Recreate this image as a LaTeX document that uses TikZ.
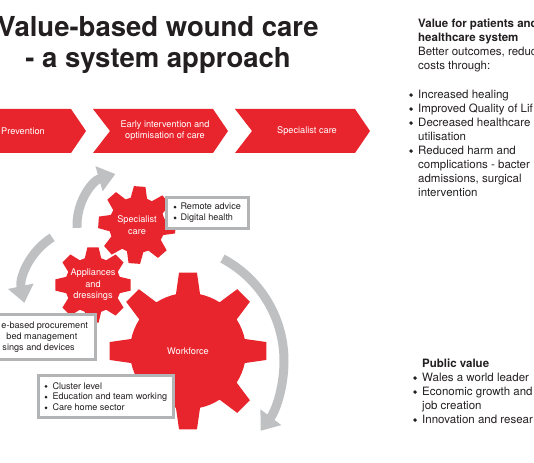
\documentclass[tikz,border=0pt]{standalone}
\usepackage{fontspec}
\setmainfont{TeX Gyre Heros}
\usetikzlibrary{arrows.meta,backgrounds}

\definecolor{wcred}{RGB}{232,37,45}
\definecolor{flowgray}{RGB}{190,192,194}
\definecolor{boxgray}{RGB}{178,180,182}
\definecolor{inkdark}{RGB}{35,31,32}

\newcommand{\bul}[1][9pt]{\makebox[#1][l]{\tikz[baseline=0pt]\fill[inkdark] (0.17em,0.3em) circle (0.165em);}}
\newcommand{\nobul}[1][9pt]{\hspace*{#1}}

% gear outline: centre, root radius, tip radius, base half angle, tip half angle, turn
\newcommand{\gearat}[6]{%
  \begin{scope}[shift={#1}, rotate=#6]
    \fill[gearfill] (-#4:#2)
      \foreach \k in {0,...,7}{
        -- ({\k*45-#5}:#3) -- ({\k*45+#5}:#3) -- ({\k*45+#4}:#2)
        arc[start angle={\k*45+#4}, end angle={\k*45+45-#4}, radius=#2]
      } -- cycle;
  \end{scope}}

\begin{document}
\begin{tikzpicture}[x=1pt, y=-1pt,
    chevron/.style={fill=wcred},
    chevtext/.style={text=white, align=center, inner sep=0pt, font=\fontsize{9.2}{11}\selectfont},
    gearfill/.style={fill=wcred},
    gearlabel/.style={text=white, align=center, inner sep=0pt, font=\fontsize{9.2}{11.5}\selectfont},
    flow/.style={draw=flowgray, line width=9pt, -{Triangle[length=17pt, width=25pt]}},
    infobox/.style={draw=boxgray, line width=3pt, fill=white, text=inkdark, align=left, anchor=west, inner ysep=0pt, font=\fontsize{9.1}{10.8}\selectfont},
    coltext/.style={text=inkdark, align=left, anchor=north west, inner sep=0pt, font=\fontsize{11.5}{14}\selectfont}]

  \useasboundingbox (0,0) rectangle (534,462);
  \clip (0,0) rectangle (534,462);

  % title
  \node[text=inkdark, align=center, anchor=north, inner sep=0pt, font=\fontsize{27.5}{31}\selectfont\bfseries] (title) at (158,16) {Value-based wound care\\- a system approach};

  % care pathway
  \foreach \x/\name/\txt in {-49/prevstep/Prevention, 93/earlystep/{Early intervention and\\optimisation of care}, 235/specstep/Specialist care}{
    \fill[chevron] (\x,109) -- ++(120,0) -- ++(15,22) -- ++(-15,22) -- ++(-120,0) -- ++(17,-22) -- cycle;
    \node[chevtext] (\name) at (\x+72,131) {\txt};
  }

  % gears
  \node[gearlabel] (specgear) at (137,225) {Specialist\\care};
  \node[gearlabel] (applgear) at (93,285) {Appliances\\and\\dressings};
  \node[gearlabel] (workgear) at (188,351) {Workforce};
  \begin{scope}[on background layer]
    \gearat{(workgear.center)}{58}{79}{12}{6.5}{0}
    \gearat{(applgear.center)}{28}{38}{17}{8.5}{0}
    \gearat{(specgear.center)}{28}{39}{17}{8.5}{-4}
  \end{scope}

  % cycle arrows
  \coordinate (topc) at (130,225);
  \coordinate (leftc) at (85,290);
  \coordinate (bigc) at (168,361);
  \draw[flow] ([shift={(177:53)}]topc) arc[start angle=177, end angle=254, radius=53];
  \draw[flow] ([shift={(238:62)}]leftc) arc[start angle=238, end angle=168, radius=62];
  \draw[flow] ([shift={(-62:116)}]bigc) arc[start angle=-62, end angle=37, radius=116];

  % boxes
  \node[infobox, inner xsep=7.5pt, minimum height=31pt] (remote) at (164.5,213) {\bul[7pt]Remote advice\\\bul[7pt]Digital health};
  \node[infobox, inner xsep=8pt, minimum height=45pt] (procure) at (-8,337) {e-based procurement\\\hspace*{5pt}bed management\\\hspace*{1pt}sings and devices};
  \node[infobox, inner xsep=6.5pt, minimum height=42pt] (cluster) at (36.5,396.5) {\bul[8pt]Cluster level\\\bul[8pt]Education and team working\\\bul[8pt]Care home sector};

  % value
  \node[coltext] (patients) at (409,18.7) {\nobul\textbf{Value for patients and}\\
    \nobul\textbf{healthcare system}\\
    \nobul Better outcomes, reduc\\
    \nobul costs through:\\[15pt]
    \bul Increased healing\\
    \bul Improved Quality of Lif\\
    \bul Decreased healthcare\\
    \nobul utilisation\\
    \bul Reduced harm and\\
    \nobul complications - bacter\\
    \nobul admissions, surgical\\
    \nobul intervention};
  \node[coltext] (public) at (413,358.7) {\nobul\textbf{Public value}\\
    \bul Wales a world leader\\
    \bul Economic growth and\\
    \nobul job creation\\
    \bul Innovation and resear};
\end{tikzpicture}
\end{document}
